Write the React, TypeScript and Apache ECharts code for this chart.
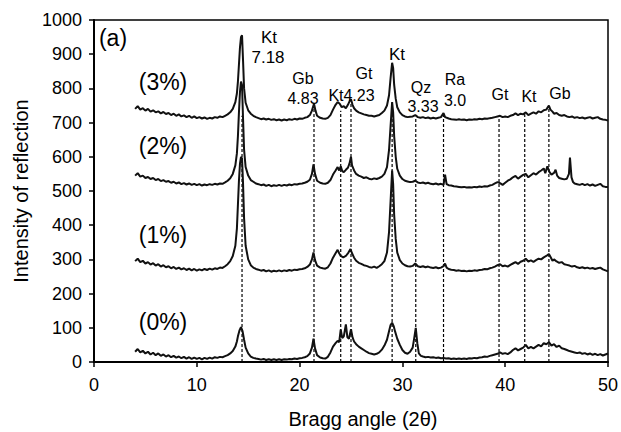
import React, { useEffect, useRef } from "react";
import * as echarts from "echarts";

// ---- data: XRD patterns, [2θ, intensity] ----
const pattern3: [number, number][] = [
  [4.0,740],[4.25,748],[4.5,738],[4.75,742],[5.0,735],[5.25,740],[5.5,732],[5.75,736],[6.0,730],[6.25,733],
  [6.5,727],[6.75,731],[7.0,725],[7.25,728],[7.5,722],[7.75,726],[8.0,720],[8.25,724],[8.5,718],[8.75,721],
  [9.0,716],[9.25,720],[9.5,714],[9.75,718],[10.0,713],[10.25,716],[10.5,712],[10.75,715],[11.0,711],[11.25,714],
  [11.5,712],[11.75,716],[12.0,714],[12.25,718],[12.5,716],[12.75,720],[13.0,724],[13.25,730],[13.5,740],[13.75,760],
  [13.9,785],[14.0,820],[14.1,870],[14.2,920],[14.3,950],[14.4,955],[14.5,880],[14.6,800],[14.75,758],[15.0,736],
  [15.25,726],[15.5,720],[15.75,716],[16.0,713],[16.25,710],[16.5,712],[16.75,709],[17.0,711],[17.25,708],[17.5,710],
  [17.75,707],[18.0,709],[18.25,706],[18.5,709],[18.75,707],[19.0,710],[19.25,708],[19.5,711],[19.75,709],[20.0,712],
  [20.25,711],[20.5,714],[20.75,716],[21.0,722],[21.2,735],[21.4,755],[21.55,735],[21.7,720],[22.0,714],[22.25,712],
  [22.5,711],[22.75,714],[23.0,722],[23.25,738],[23.5,752],[23.7,760],[23.9,755],[24.1,745],[24.3,748],[24.5,742],
  [24.7,752],[24.9,765],[25.0,768],[25.15,752],[25.3,742],[25.5,735],[25.75,730],[26.0,727],[26.25,724],[26.5,722],
  [26.75,720],[27.0,720],[27.25,718],[27.5,720],[27.75,722],[28.0,728],[28.25,735],[28.5,750],[28.7,780],[28.85,830],
  [29.0,875],[29.1,860],[29.2,810],[29.35,770],[29.5,745],[29.75,730],[30.0,722],[30.25,718],[30.5,716],[30.75,717],
  [31.0,718],[31.25,722],[31.5,716],[31.75,714],[32.0,716],[32.25,713],[32.5,715],[32.75,712],[33.0,714],[33.25,712],
  [33.5,714],[33.75,716],[34.0,728],[34.15,716],[34.5,712],[34.75,710],[35.0,709],[35.25,708],[35.5,710],[35.75,708],
  [36.0,709],[36.25,707],[36.5,709],[36.75,708],[37.0,710],[37.25,709],[37.5,711],[37.75,710],[38.0,712],[38.25,711],
  [38.5,713],[38.75,714],[39.0,716],[39.25,718],[39.5,720],[39.75,716],[40.0,718],[40.25,716],[40.5,720],[40.75,722],
  [41.0,727],[41.25,722],[41.5,726],[41.75,724],[42.0,730],[42.25,722],[42.5,726],[42.75,730],[43.0,726],[43.25,733],
  [43.5,730],[43.75,736],[44.0,738],[44.25,750],[44.4,738],[44.6,732],[44.75,726],[45.0,728],[45.25,722],[45.5,720],
  [45.75,722],[46.0,718],[46.25,716],[46.5,718],[46.75,714],[47.0,716],[47.25,713],[47.5,715],[47.75,712],[48.0,714],
  [48.25,716],[48.5,712],[48.75,714],[49.0,716],[49.25,711],[49.5,709],[49.75,708],[50.0,706],
];

const pattern2: [number, number][] = [
  [4.0,545],[4.25,552],[4.5,542],[4.75,545],[5.0,538],[5.25,541],[5.5,535],[5.75,538],[6.0,532],[6.25,535],
  [6.5,529],[6.75,532],[7.0,527],[7.25,529],[7.5,524],[7.75,527],[8.0,522],[8.25,525],[8.5,520],[8.75,523],
  [9.0,519],[9.25,522],[9.5,518],[9.75,521],[10.0,517],[10.25,520],[10.5,516],[10.75,519],[11.0,517],[11.25,520],
  [11.5,518],[11.75,521],[12.0,519],[12.25,522],[12.5,521],[12.75,525],[13.0,530],[13.25,537],[13.5,550],[13.75,575],
  [13.9,610],[14.0,660],[14.1,730],[14.2,790],[14.3,820],[14.4,810],[14.5,710],[14.6,620],[14.75,570],[15.0,545],
  [15.25,532],[15.5,527],[15.75,522],[16.0,520],[16.25,517],[16.5,519],[16.75,515],[17.0,518],[17.25,514],[17.5,517],
  [17.75,515],[18.0,518],[18.25,515],[18.5,518],[18.75,516],[19.0,519],[19.25,517],[19.5,520],[19.75,519],[20.0,521],
  [20.25,522],[20.5,524],[20.75,527],[21.0,533],[21.2,550],[21.35,578],[21.5,550],[21.7,530],[22.0,524],[22.25,522],
  [22.5,521],[22.75,524],[23.0,532],[23.25,548],[23.5,560],[23.7,570],[23.85,560],[24.0,572],[24.15,558],[24.3,555],
  [24.5,562],[24.7,568],[24.85,580],[25.0,600],[25.1,575],[25.3,560],[25.5,550],[25.75,545],[26.0,542],[26.25,538],
  [26.5,540],[26.75,536],[27.0,534],[27.25,537],[27.5,535],[27.75,538],[28.0,542],[28.25,550],[28.5,570],[28.7,620],
  [28.85,690],[29.0,760],[29.1,730],[29.2,660],[29.35,600],[29.5,565],[29.75,545],[30.0,535],[30.25,530],[30.5,528],
  [30.75,526],[31.0,527],[31.25,530],[31.5,525],[31.75,523],[32.0,525],[32.25,522],[32.5,524],[32.75,521],[33.0,520],
  [33.25,522],[33.5,519],[33.75,521],[34.0,518],[34.15,548],[34.3,520],[34.5,517],[34.75,516],[35.0,514],[35.25,513],
  [35.5,512],[35.75,511],[36.0,512],[36.25,510],[36.5,511],[36.75,510],[37.0,512],[37.25,511],[37.5,513],[37.75,512],
  [38.0,514],[38.25,513],[38.5,516],[38.75,518],[39.0,522],[39.25,526],[39.5,523],[39.75,518],[40.0,524],[40.25,530],
  [40.5,534],[40.75,540],[41.0,544],[41.25,536],[41.5,542],[41.75,547],[42.0,550],[42.25,540],[42.5,546],[42.75,552],
  [43.0,548],[43.25,555],[43.5,560],[43.75,566],[43.9,552],[44.1,572],[44.3,556],[44.5,548],[44.75,553],[44.9,562],
  [45.05,545],[45.25,538],[45.5,536],[45.75,534],[46.0,536],[46.2,550],[46.3,598],[46.45,540],[46.6,526],[46.75,522],
  [47.0,520],[47.25,518],[47.5,521],[47.75,517],[48.0,520],[48.25,516],[48.5,519],[48.75,515],[49.0,518],[49.25,521],
  [49.5,514],[49.75,512],[50.0,512],
];

const pattern1: [number, number][] = [
  [4.0,295],[4.25,302],[4.5,292],[4.75,296],[5.0,288],[5.25,292],[5.5,285],[5.75,289],[6.0,282],[6.25,286],
  [6.5,279],[6.75,283],[7.0,277],[7.25,280],[7.5,274],[7.75,278],[8.0,272],[8.25,276],[8.5,271],[8.75,274],
  [9.0,269],[9.25,273],[9.5,268],[9.75,272],[10.0,267],[10.25,271],[10.5,268],[10.75,272],[11.0,269],[11.25,273],
  [11.5,270],[11.75,274],[12.0,272],[12.25,276],[12.5,275],[12.75,280],[13.0,286],[13.25,295],[13.5,310],[13.75,340],
  [13.9,390],[14.0,460],[14.1,530],[14.2,580],[14.3,600],[14.4,595],[14.5,520],[14.6,420],[14.75,340],[15.0,300],
  [15.25,283],[15.5,276],[15.75,272],[16.0,270],[16.25,267],[16.5,269],[16.75,265],[17.0,268],[17.25,264],[17.5,267],
  [17.75,265],[18.0,268],[18.25,265],[18.5,268],[18.75,266],[19.0,269],[19.25,267],[19.5,270],[19.75,269],[20.0,271],
  [20.25,272],[20.5,274],[20.75,278],[21.0,285],[21.2,300],[21.35,320],[21.5,298],[21.7,282],[22.0,276],[22.25,274],
  [22.5,273],[22.75,277],[23.0,288],[23.25,305],[23.5,318],[23.7,328],[23.85,318],[24.0,310],[24.25,306],[24.5,310],
  [24.75,320],[24.95,330],[25.1,318],[25.3,305],[25.5,296],[25.75,290],[26.0,287],[26.25,283],[26.5,281],[26.75,278],
  [27.0,276],[27.25,279],[27.5,275],[27.75,280],[28.0,286],[28.25,295],[28.5,320],[28.7,380],[28.85,470],[29.0,560],
  [29.1,520],[29.2,430],[29.35,360],[29.5,320],[29.75,298],[30.0,288],[30.25,283],[30.5,280],[30.75,279],[31.0,281],
  [31.25,288],[31.5,280],[31.75,278],[32.0,280],[32.25,277],[32.5,279],[32.75,276],[33.0,275],[33.25,277],[33.5,274],
  [33.75,276],[34.0,280],[34.15,288],[34.3,276],[34.5,272],[34.75,270],[35.0,269],[35.25,267],[35.5,268],[35.75,266],
  [36.0,267],[36.25,265],[36.5,267],[36.75,266],[37.0,268],[37.25,267],[37.5,269],[37.75,270],[38.0,272],[38.25,271],
  [38.5,274],[38.75,276],[39.0,279],[39.25,283],[39.5,286],[39.75,280],[40.0,282],[40.25,279],[40.5,284],[40.75,288],
  [41.0,292],[41.25,287],[41.5,293],[41.75,296],[42.0,302],[42.25,294],[42.5,297],[42.75,293],[43.0,298],[43.25,302],
  [43.5,300],[43.75,306],[44.0,310],[44.25,316],[44.45,305],[44.6,296],[44.75,300],[45.0,294],[45.25,290],[45.5,292],
  [45.75,286],[46.0,284],[46.25,282],[46.5,279],[46.75,281],[47.0,277],[47.25,275],[47.5,277],[47.75,274],[48.0,276],
  [48.25,273],[48.5,275],[48.75,272],[49.0,274],[49.25,276],[49.5,271],[49.75,268],[50.0,265],
];

const pattern0: [number, number][] = [
  [4.0,30],[4.25,38],[4.5,28],[4.75,33],[5.0,25],[5.25,30],[5.5,22],[5.75,27],[6.0,20],[6.25,25],
  [6.5,18],[6.75,22],[7.0,16],[7.25,20],[7.5,14],[7.75,18],[8.0,13],[8.25,16],[8.5,11],[8.75,15],
  [9.0,10],[9.25,14],[9.5,9],[9.75,13],[10.0,9],[10.25,12],[10.5,8],[10.75,12],[11.0,9],[11.25,13],
  [11.5,10],[11.75,14],[12.0,12],[12.25,15],[12.5,14],[12.75,17],[13.0,20],[13.25,25],[13.5,32],[13.75,45],
  [13.9,60],[14.0,75],[14.15,92],[14.3,102],[14.45,90],[14.6,65],[14.75,42],[15.0,25],[15.25,16],[15.5,12],
  [15.75,10],[16.0,9],[16.25,7],[16.5,9],[16.75,6],[17.0,8],[17.25,6],[17.5,8],[17.75,6],[18.0,8],
  [18.25,6],[18.5,8],[18.75,7],[19.0,9],[19.25,8],[19.5,10],[19.75,9],[20.0,11],[20.25,12],[20.5,14],
  [20.75,17],[21.0,25],[21.2,42],[21.35,68],[21.5,40],[21.7,20],[22.0,13],[22.25,11],[22.5,10],[22.75,15],
  [23.0,28],[23.25,45],[23.5,55],[23.7,62],[23.85,58],[24.0,95],[24.15,70],[24.3,75],[24.5,110],[24.65,72],
  [24.8,68],[25.0,96],[25.15,72],[25.3,60],[25.5,52],[25.75,45],[26.0,40],[26.25,35],[26.5,30],[26.75,26],
  [27.0,24],[27.25,22],[27.5,24],[27.75,28],[28.0,36],[28.25,48],[28.5,65],[28.7,90],[28.85,108],[29.0,115],
  [29.15,105],[29.3,88],[29.5,68],[29.75,50],[30.0,35],[30.25,27],[30.5,24],[30.75,30],[31.0,42],[31.15,70],
  [31.3,100],[31.45,55],[31.6,25],[31.8,18],[32.0,16],[32.25,14],[32.5,15],[32.75,13],[33.0,14],[33.25,12],
  [33.5,13],[33.75,11],[34.0,12],[34.25,10],[34.5,11],[34.75,9],[35.0,10],[35.25,9],[35.5,10],[35.75,9],
  [36.0,10],[36.25,9],[36.5,11],[36.75,10],[37.0,12],[37.25,11],[37.5,13],[37.75,14],[38.0,16],[38.25,15],
  [38.5,18],[38.75,20],[39.0,22],[39.25,24],[39.5,28],[39.75,24],[40.0,26],[40.25,23],[40.5,28],[40.75,35],
  [41.0,40],[41.25,34],[41.5,38],[41.75,42],[42.0,50],[42.25,40],[42.5,44],[42.75,40],[43.0,45],[43.25,50],
  [43.5,46],[43.75,55],[44.0,52],[44.25,58],[44.5,48],[44.75,52],[45.0,44],[45.25,48],[45.5,40],[45.75,38],
  [46.0,35],[46.25,32],[46.5,30],[46.75,28],[47.0,26],[47.25,28],[47.5,24],[47.75,26],[48.0,22],[48.25,25],
  [48.5,21],[48.75,24],[49.0,20],[49.25,23],[49.5,19],[49.75,22],[50.0,25],
];

// reference (dashed) lines: 2θ position and top intensity
const refAngles = [14.4, 21.4, 24.0, 25.0, 29.0, 31.3, 34.0, 39.4, 41.9, 44.25];
const refTops = [720, 740, 735, 755, 720, 716, 725, 717, 728, 745];

const xTicks = { min: 0, max: 50, interval: 10 };
const yTicks = { min: 0, max: 1000, interval: 100 };

const FONT = '"Liberation Sans", Arial, Helvetica, sans-serif';

// annotation labels (text, pixel position, size)
const annotations: { t: string; x: number; y: number; s: number }[] = [
  { t: "(a)", x: 113, y: 38, s: 23 },
  { t: "(3%)", x: 163, y: 82, s: 23 },
  { t: "(2%)", x: 163, y: 146, s: 23 },
  { t: "(1%)", x: 163, y: 235, s: 23 },
  { t: "(0%)", x: 163, y: 322, s: 23 },
  { t: "Kt", x: 269, y: 37, s: 17 },
  { t: "7.18", x: 268, y: 57, s: 17 },
  { t: "Gb", x: 303, y: 78, s: 16 },
  { t: "4.83", x: 303, y: 98, s: 16 },
  { t: "Kt", x: 336, y: 95, s: 16 },
  { t: "Gt", x: 364, y: 73, s: 16 },
  { t: "4.23", x: 359, y: 95, s: 16 },
  { t: "Kt", x: 397, y: 54, s: 17 },
  { t: "Qz", x: 421, y: 87, s: 16 },
  { t: "3.33", x: 423, y: 106, s: 16 },
  { t: "Ra", x: 455, y: 79, s: 16 },
  { t: "3.0", x: 455, y: 100, s: 16 },
  { t: "Gt", x: 500, y: 94, s: 16 },
  { t: "Kt", x: 529, y: 96, s: 16 },
  { t: "Gb", x: 560, y: 93, s: 16 },
];

export default function App() {
  const ref = useRef<HTMLDivElement>(null);
  useEffect(() => {
    document.body.style.margin = "0";
    if (!ref.current) return;
    const chart = echarts.init(ref.current, null, { renderer: "svg" });

    const curve = (data: [number, number][]) => ({
      type: "line",
      data,
      showSymbol: false,
      silent: true,
      z: 3,
      lineStyle: { color: "#111", width: 2 },
    });

    const refSeries = refAngles.map((a, i) => ({
      type: "line",
      data: [
        [a, 0],
        [a, refTops[i]],
      ],
      showSymbol: false,
      silent: true,
      z: 2,
      lineStyle: { color: "#000", width: 1.2, type: [3, 2] },
    }));

    chart.setOption({
      animation: false,
      grid: {
        left: 94,
        right: 13,
        top: 20,
        bottom: 70,
        show: true,
        borderColor: "#000",
        borderWidth: 1.5,
        outerBoundsMode: "none",
        containLabel: false,
      },
      xAxis: {
        type: "value",
        ...xTicks,
        axisLine: { onZero: false, lineStyle: { color: "#000", width: 2 } },
        axisTick: { show: true, length: 5, lineStyle: { color: "#000", width: 1.5 } },
        axisLabel: { color: "#000", fontSize: 18, fontFamily: FONT, margin: 14 },
        splitLine: { show: false },
        name: "Bragg angle (2θ)",
        nameLocation: "middle",
        nameGap: 47,
        nameTextStyle: { fontSize: 20, color: "#000", fontFamily: FONT, padding: [0, 0, 0, 24] },
      },
      yAxis: {
        type: "value",
        ...yTicks,
        axisLine: { show: true, lineStyle: { color: "#000", width: 2 } },
        axisTick: { show: true, length: 5, lineStyle: { color: "#000", width: 1.5 } },
        axisLabel: {
          color: "#000",
          fontSize: 18,
          fontFamily: FONT,
          margin: 12,
          formatter: (v: number) => String(v),
        },
        splitLine: { show: false },
        name: "Intensity of reflection",
        nameLocation: "middle",
        nameGap: 62,
        nameTextStyle: { fontSize: 20, color: "#000", fontFamily: FONT },
      },
      series: [
        ...refSeries,
        curve(pattern0),
        curve(pattern1),
        curve(pattern2),
        curve(pattern3),
      ],
      graphic: annotations.map((a) => ({
        type: "text",
        x: a.x,
        y: a.y,
        silent: true,
        z: 10,
        style: {
          text: a.t,
          fontSize: a.s,
          fontFamily: FONT,
          fill: "#000",
          align: "center",
          verticalAlign: "middle",
        },
      })),
    });
    return () => chart.dispose();
  }, []);
  return <div ref={ref} style={{ width: 621, height: 432 }} />;
}
